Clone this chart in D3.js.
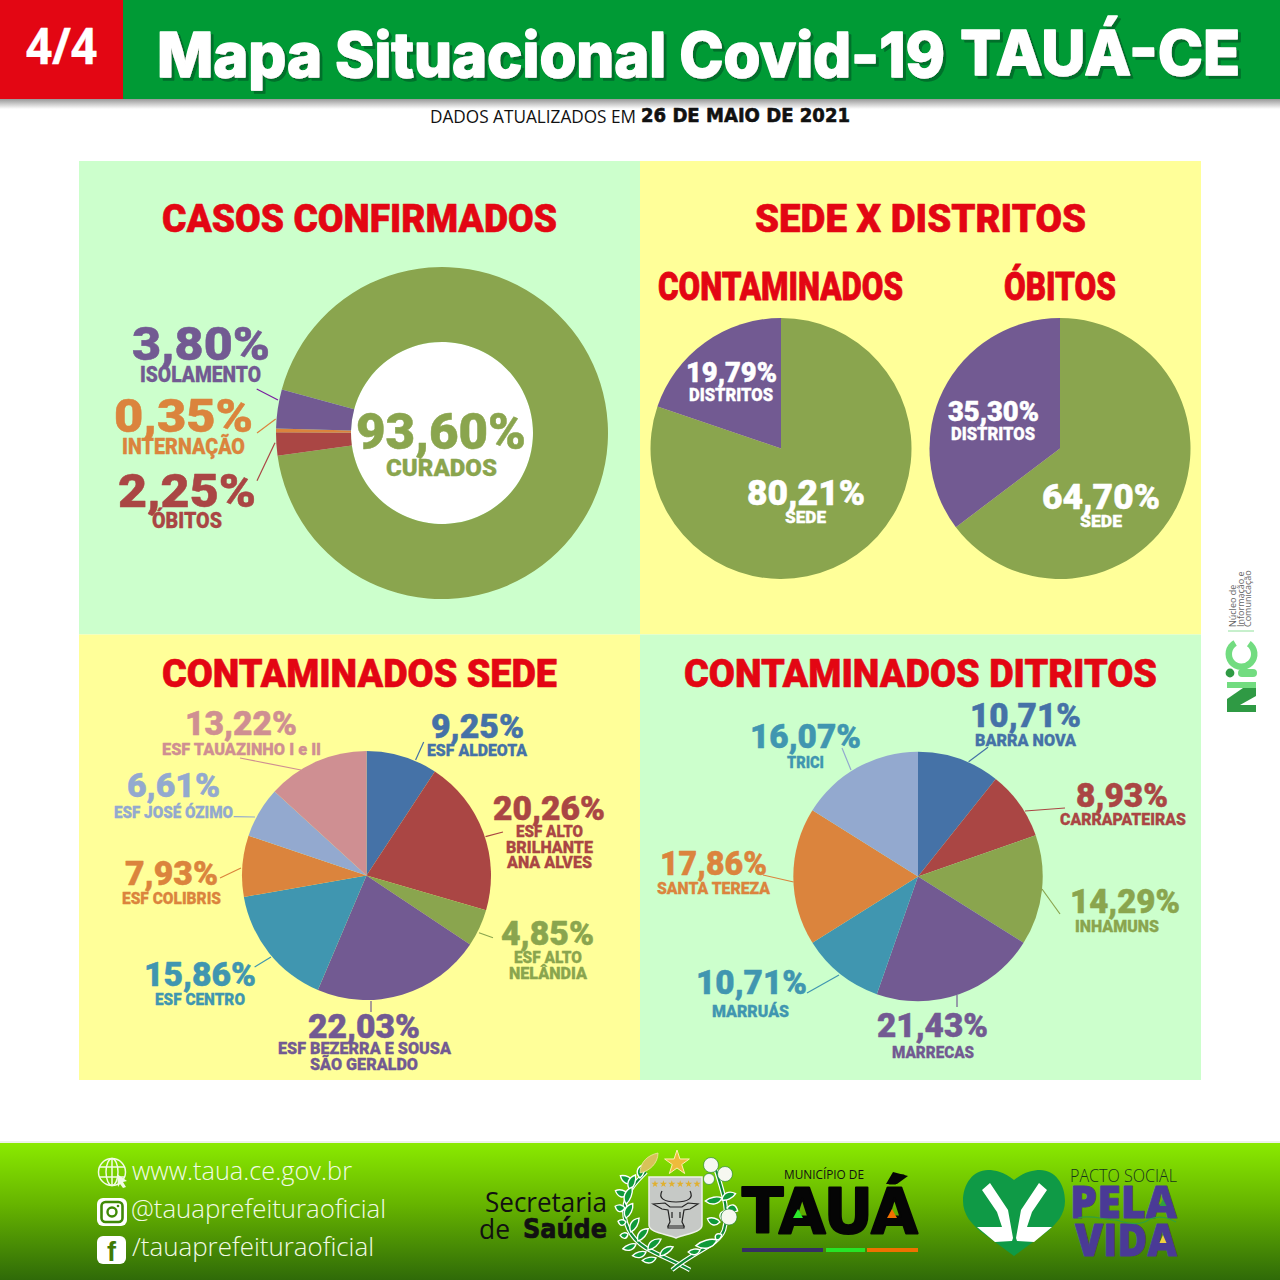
<!DOCTYPE html>
<html lang="pt-BR"><head><meta charset="utf-8">
<style>html,body{margin:0;padding:0;background:#fff}svg{display:block}text{white-space:pre}</style>
<script src="https://cdn.jsdelivr.net/npm/d3@7/dist/d3.min.js"></script></head>
<body><svg id="c" width="1280" height="1280" viewBox="0 0 1280 1280"></svg>
<script>
// ---------- data ----------
const confirmedCategories = ["CURADOS","ÓBITOS","INTERNAÇÃO","ISOLAMENTO"];
const confirmedValues = [93.60,2.25,0.35,3.80];
const seatCategories = ["SEDE","DISTRITOS"];
const seatContaminatedValues = [80.21,19.79];
const seatDeathValues = [64.70,35.30];
const seatUnitCategories = ["ESF ALDEOTA","ESF ALTO|BRILHANTE|ANA ALVES","ESF ALTO|NELÂNDIA","ESF BEZERRA E SOUSA|SÃO GERALDO","ESF CENTRO","ESF COLIBRIS","ESF JOSÉ ÓZIMO","ESF TAUAZINHO I e II"];
const seatUnitValues = [9.25,20.26,4.85,22.03,15.86,7.93,6.61,13.22];
const districtCategories = ["BARRA NOVA","CARRAPATEIRAS","INHAMUNS","MARRECAS","MARRUÁS","SANTA TEREZA","TRICI"];
const districtValues = [10.71,8.93,14.29,21.43,10.71,17.86,16.07];

// ---------- styles ----------
const C={olive:"#8aa54e",purple:"#725a92",red:"#aa4644",orange:"#db843d",blue:"#4572a7",teal:"#4096b0",sky:"#93a9cf",pink:"#cf8f92"};
const confirmedColors=[C.olive,C.red,C.orange,C.purple];
const seatColors=[C.olive,C.purple];
const unitColors=[C.blue,C.red,C.olive,C.purple,C.teal,C.orange,C.sky,C.pink];
const districtColors=[C.blue,C.red,C.olive,C.purple,C.teal,C.orange,C.sky];
const districtLabelColors=[C.blue,C.red,C.olive,C.purple,C.teal,C.orange,C.teal];
const LF='Roboto,"Open Sans",sans-serif';

// ---------- layout: [pct x0,x1,baseline,size], [[name x0,x1,baseline]...], leader [x1,y1,x2,y2] ----------
const confirmedLayout=[
 {p:[356,526,449,50],n:[[386,497,476]],ns:23},
 {p:[118,256,507,47],n:[[152,222,528]],ns:22,l:[275,442.7,257,480.7]},
 {p:[114,253,432,47],n:[[122,245,454]],ns:22,l:[275.7,419,257,433]},
 {p:[132,270,360,47],n:[[140,261,382]],ns:22,l:[278,400,256.7,389],lc:"#7a1fa0"}];
const contLayout=[{p:[747,865,505,35],n:[[785,826,523]],ns:17},{p:[686,777,382,27],n:[[689,773,401]],ns:18}];
const deathLayout=[{p:[1042,1160,509,35],n:[[1080,1122,527]],ns:17},{p:[948,1039,421,27],n:[[951,1035,440]],ns:18}];
const unitLayout=[
 {p:[431,524,738,33],n:[[427,527,756]],ns:17,l:[415.6,760,423.7,742]},
 {p:[493,605,820,33],n:[[516,583,837],[506,593,853],[507,592,868]],ns:17,l:[485.5,836.7,503,832]},
 {p:[501,594,945,33],n:[[514,582,963],[509,587,979]],ns:17,l:[479,932.7,493,937.7]},
 {p:[308,420,1038,33],n:[[278,451,1054],[310,418,1070]],ns:17,l:[371,1001,371,1012]},
 {p:[144,256,986,33],n:[[155,245,1005]],ns:17,l:[271,957,254.6,967]},
 {p:[125,218,885,33],n:[[122,221,904]],ns:17,l:[241,868,220,878]},
 {p:[127,220,797,33],n:[[114,233,818]],ns:17,l:[255,817,233.7,816.7]},
 {p:[185,297,735,33],n:[[162,321,755]],ns:17,l:[301,770,240,758]}];
const districtLayout=[
 {p:[970,1081,727,33],n:[[975,1076,746]],ns:17,l:[968.6,761.7,988,747.3]},
 {p:[1076,1168,807,33],n:[[1060,1186,825]],ns:17,l:[1025,811,1065,808]},
 {p:[1070,1180,913,33],n:[[1075,1159,932]],ns:17,l:[1042,889,1060,914]},
 {p:[877,988,1037,33],n:[[892,974,1058]],ns:17,l:[957,995,957,1007]},
 {p:[696,807,994,33],n:[[712,789,1017]],ns:17,l:[839,975,807,993]},
 {p:[660,767,875,33],n:[[657,770,894]],ns:17,l:[793.6,882,763,875]},
 {p:[750,861,748,33],n:[[787,824,768]],ns:17,l:[851,770,842,748]}];

const svg=d3.select("#c");
const defs=svg.append("defs");
const g1=defs.append("linearGradient").attr("id","foot").attr("x1",0).attr("y1",0).attr("x2",0).attr("y2",1);
g1.append("stop").attr("offset",0).attr("stop-color","#8aea00");
g1.append("stop").attr("offset",.45).attr("stop-color","#66b400");
g1.append("stop").attr("offset",1).attr("stop-color","#2f6a08");
const g2=defs.append("linearGradient").attr("id","sh").attr("x1",0).attr("y1",0).attr("x2",0).attr("y2",1);
g2.append("stop").attr("offset",0).attr("stop-color","#999");
g2.append("stop").attr("offset",1).attr("stop-color","#fff");
const ds=defs.append("filter").attr("id","ts").attr("x","-5%").attr("y","-20%").attr("width","110%").attr("height","140%");
ds.append("feDropShadow").attr("dx",3).attr("dy",3).attr("stdDeviation",0.4).attr("flood-color","#00702a");

function fit(g,t,x0,x1,base,size,fill,o={}){
  const e=g.append("text").attr("x",x0).attr("y",base).attr("textLength",x1-x0).attr("lengthAdjust","spacingAndGlyphs")
   .attr("font-family",o.font||LF).attr("font-weight",o.weight||900).attr("font-size",size).attr("fill",fill).text(t);
  if(o.stroke!==0) e.attr("stroke",fill).attr("stroke-width",o.stroke===undefined?0.6:o.stroke).attr("stroke-linejoin","round");
  return e;
}
const rect=(x,y,w,h,f)=>svg.append("rect").attr("x",x).attr("y",y).attr("width",w).attr("height",h).attr("fill",f);

// ---------- frames ----------
rect(0,99,1280,10,"url(#sh)");
rect(0,0,1280,99,"#009a35");
rect(0,0,123,99,"#e30613");
rect(79,161,561,473.5,"#ccffcc");
rect(640,161,561,473.5,"#ffff99");
rect(79,634.5,561,445.5,"#ffff99");
rect(640,634.5,561,445.5,"#ccffcc");
rect(0,1141,1280,2,"#eef2e8");
rect(0,1143,1280,137,"url(#foot)");

// header
fit(svg,"4/4",26,97,64,50,"#fff",{font:'"Open Sans"',weight:700,stroke:.4});
const TF='Inter,"Open Sans",sans-serif';
const titleG=svg.append("g").attr("filter","url(#ts)");
fit(titleG,"Mapa Situacional Covid-19",157,945,77,62,"#fff",{font:TF,weight:800,stroke:1.4});
fit(titleG,"TAUÁ-CE",960,1240,75,62,"#fff",{font:TF,weight:800,stroke:1.4});
fit(svg,"DADOS ATUALIZADOS EM",430,636,123,19,"#111",{font:'"Open Sans"',weight:400,stroke:0});
fit(svg,"26 DE MAIO DE 2021",641,850,122,19,"#111",{font:'"DejaVu Sans"',weight:700,stroke:.6});

// panel titles
const HF='Roboto,sans-serif', RED="#e30613";
[["CASOS CONFIRMADOS",162,557,232],["SEDE X DISTRITOS",755,1086,232],["CONTAMINADOS SEDE",162,557,687],["CONTAMINADOS DITRITOS",684,1157,687]]
 .forEach(([t,a,b,y])=>fit(svg,t,a,b,y,38,RED,{font:HF,weight:900,stroke:.6}));
fit(svg,"CONTAMINADOS",658,903,300,38,RED,{font:HF,weight:900,stroke:.8});
fit(svg,"ÓBITOS",1004,1116,300,38,RED,{font:HF,weight:900,stroke:.8});

// ---------- pies ----------
function drawPie(cfg){
  const {cx,cy,r,ir=0,start=0,values,colors,cats,layout,labelColors}=cfg;
  const pie=d3.pie().sort(null).startAngle(start).endAngle(start+2*Math.PI);
  const arc=d3.arc().innerRadius(ir).outerRadius(r);
  const g=svg.append("g");
  if(ir) g.append("circle").attr("cx",cx).attr("cy",cy).attr("r",ir).attr("fill","#fff");
  g.append("g").attr("transform",`translate(${cx},${cy})`).selectAll("path").data(pie(values)).join("path")
    .attr("d",arc).attr("fill",(d,i)=>colors[i]);
  const fmt=v=>v.toFixed(2).replace(".",",")+"%";
  layout.forEach((L,i)=>{
    const col=cfg.white?"#fff":(labelColors||colors)[i];
    if(L.l) g.append("line").attr("x1",L.l[0]).attr("y1",L.l[1]).attr("x2",L.l[2]).attr("y2",L.l[3])
       .attr("stroke",L.lc||colors[i]).attr("stroke-width",1.2);
    fit(g,fmt(values[i]),L.p[0],L.p[1],L.p[2],L.p[3],col,{stroke:.5});
    cats[i].split("|").forEach((s,k)=>{const n=L.n[k];fit(g,s,n[0],n[1],n[2],L.ns,col,{stroke:.3});});
  });
}
drawPie({cx:442,cy:433,r:166,ir:91,start:-74.8*Math.PI/180,values:confirmedValues,colors:confirmedColors,cats:confirmedCategories,layout:confirmedLayout});
drawPie({cx:781,cy:448.5,r:130.5,values:seatContaminatedValues,colors:seatColors,cats:seatCategories,layout:contLayout,white:true});
drawPie({cx:1060,cy:448.5,r:130.5,values:seatDeathValues,colors:seatColors,cats:seatCategories,layout:deathLayout,white:true});
drawPie({cx:366.5,cy:875.5,r:124.5,values:seatUnitValues,colors:unitColors,cats:seatUnitCategories,layout:unitLayout});
drawPie({cx:918,cy:876.5,r:124.7,values:districtValues,colors:districtColors,cats:districtCategories,layout:districtLayout,labelColors:districtLabelColors});

// ---------- footer: contacts ----------
const f=svg.append("g");
const FF='"Open Sans",sans-serif';
fit(f,"www.taua.ce.gov.br",132,352,1180,25,"#f2fbe6",{font:FF,weight:300,stroke:0});
fit(f,"@tauaprefeituraoficial",131,386,1218,26,"#f2fbe6",{font:FF,weight:300,stroke:0});
fit(f,"/tauaprefeituraoficial",132,374,1256,26,"#f2fbe6",{font:FF,weight:300,stroke:0});
const gl=f.append("g").attr("fill","none").attr("stroke","#f2fbe6").attr("stroke-width",1.5);
gl.append("circle").attr("cx",112).attr("cy",1172).attr("r",13.5);
gl.append("ellipse").attr("cx",112).attr("cy",1172).attr("rx",6).attr("ry",13.5);
gl.append("path").attr("d","M99,1167H125M99,1177H125M112,1158V1186");
f.append("path").attr("d","M117,1174L127,1181L123,1182L126,1187L123,1188L120,1184L118,1187Z").attr("fill","#f2fbe6");
f.append("rect").attr("x",97).attr("y",1198).attr("width",30).attr("height",28).attr("rx",6).attr("fill","#fff");
f.append("rect").attr("x",101.5).attr("y",1202).attr("width",21).attr("height",20).attr("rx",4).attr("fill","none").attr("stroke","#3f8a06").attr("stroke-width",2.6);
f.append("circle").attr("cx",112).attr("cy",1212).attr("r",4.5).attr("fill","none").attr("stroke","#3f8a06").attr("stroke-width",2.4);
f.append("circle").attr("cx",118).attr("cy",1206).attr("r",1.3).attr("fill","#3f8a06");
f.append("rect").attr("x",97).attr("y",1236).attr("width",29).attr("height",28).attr("rx",6).attr("fill","#fff");
f.append("text").attr("x",107).attr("y",1261).attr("font-family",'"Liberation Sans"').attr("font-weight",700).attr("font-size",27).attr("fill","#3f7a06").text("f");

// secretaria
fit(f,"Secretaria",485,607,1212,27,"#111",{font:'"Open Sans"',weight:400,stroke:0});
fit(f,"de",479,510,1239,27,"#111",{font:'"Open Sans"',weight:400,stroke:0});
fit(f,"Saúde",523,607,1238,26,"#111",{font:'"DejaVu Sans"',weight:700,stroke:.7});

// coat of arms
const coat=f.append("g");
const stemL="M646,1172C636,1182 628,1190 625,1204C622,1222 630,1238 646,1248C660,1256 676,1262 690,1270";
const stemR="M716,1170C722,1190 730,1210 724,1230C718,1246 696,1250 672,1270";
[stemL,stemR].forEach(d=>{
  coat.append("path").attr("d",d).attr("fill","none").attr("stroke","#fff").attr("stroke-width",4.5);
  coat.append("path").attr("d",d).attr("fill","none").attr("stroke","#0f8a35").attr("stroke-width",2.2);
});
const leaf=(x,y,rot,l,w)=>coat.append("path")
  .attr("d",`M0,0C${l*.25},${-w} ${l*.7},${-w} ${l},0C${l*.7},${w*.5} ${l*.25},${w*.5} 0,0Z`)
  .attr("transform",`translate(${x},${y}) rotate(${rot})`).attr("fill","#0f9a3a").attr("stroke","#fff").attr("stroke-width",1.4);
[[640,1178,-75,14,6],[634,1182,-155,15,6],[630,1190,-70,16,6],[628,1194,-165,13,6],[626,1204,-70,18,6],[625,1208,-170,10,6],
 [626,1218,-65,16,6],[626,1222,-175,8,5],[631,1232,-60,16,6],[628,1234,170,8,5],[638,1241,-50,16,6],[636,1244,160,14,5],
 [648,1250,-40,17,6],[646,1252,165,14,5],[660,1256,-35,16,5],[656,1258,170,14,5]].forEach(a=>leaf(...a));
[[722,1200,-25,15,6],[722,1198,170,17,6],[727,1208,15,11,6],[720,1222,195,13,6],[722,1220,-70,10,5],[716,1240,-45,8,5],[717,1240,165,22,7],[700,1250,170,12,5]]
 .forEach(a=>leaf(...a));
[[711,1165,7.5],[725,1174,7.5],[709,1179,5.5],[729,1217,8]].forEach(([x,y,r])=>coat.append("circle").attr("cx",x).attr("cy",y).attr("r",r).attr("fill","#f6f8f0").attr("stroke","#1a7a30").attr("stroke-width",.6));
coat.append("path").attr("d","M640,1173C640,1162 648,1155 658,1153C658,1163 650,1171 640,1173Z").attr("fill","#d8c25a").attr("stroke","#f0e8a0").attr("stroke-width",.8);
const star=d3.symbol().type(d3.symbolStar).size(190);
coat.append("path").attr("d",star()).attr("transform","translate(677,1163)").attr("fill","#eebb3c").attr("stroke","#fff2b0").attr("stroke-width",1);
coat.append("path").attr("d","M649,1177H702V1225C702,1233 684,1234 676,1238C668,1234 649,1233 649,1225Z").attr("fill","#c6c9c6").attr("stroke","#eef0ea").attr("stroke-width",1.5);
for(let i=0;i<6;i++) coat.append("path").attr("d",d3.symbol().type(d3.symbolStar).size(16)()).attr("transform",`translate(${655+i*8.4},1184)`).attr("fill","#e0b030");
const bull=coat.append("g").attr("fill","none").attr("stroke","#222").attr("stroke-width",1.2);
bull.append("path").attr("d","M662,1191C658,1198 664,1202 676,1202C688,1202 694,1198 690,1191");
bull.append("path").attr("d","M653,1204L665,1203L670,1207L682,1207L688,1203L698,1204L690,1209L684,1210L682,1222L684,1226H668L670,1222L668,1210L662,1209Z");
bull.append("path").attr("d","M668,1226V1228H684V1226M672,1212V1218M680,1212V1218");

// TAUÁ
fit(f,"MUNICÍPIO DE",784,864,1179,13.5,"#111",{font:'"Open Sans"',weight:400,stroke:0});
fit(f,"TAUÁ",742,918,1233,63,"#050505",{font:'"DejaVu Sans"',weight:700,stroke:2.2});
f.append("path").attr("d","M893,1172L908,1176L897,1184L886,1184Z").attr("fill","#050505");
f.append("path").attr("d","M798,1209L803,1218H793Z").attr("fill","#2bea2b");
f.append("path").attr("d","M892,1209L897,1218H887Z").attr("fill","#f07000");
rect(742,1248,81,4,"#352f63");rect(826,1248,39,4,"#27e427");rect(867,1248,51,4,"#ee7100");

// heart logo
f.append("path").attr("d","M1014,1180C1004,1172 995,1170 988,1170C973,1170 963,1184 963,1201C963,1215 972,1224 980,1231L1014,1256L1048,1231C1056,1224 1065,1215 1065,1201C1065,1184 1055,1170 1040,1170C1033,1170 1024,1172 1014,1180Z").attr("fill","#0f9a46");
f.append("path").attr("d","M982,1190L990,1183L1008,1210L1013,1238L1012,1241L995,1242L977,1227L1002,1227L997,1212Z").attr("fill","#fff");
f.append("path").attr("d","M1047,1190L1039,1183L1021,1210L1016,1238L1017,1241L1034,1242L1052,1227L1027,1227L1032,1212Z").attr("fill","#fff");
fit(f,"PACTO SOCIAL",1070,1177,1182,18,"#17351c",{font:'"Open Sans"',weight:300,stroke:0});
fit(f,"PELA",1070,1177,1218,44,"#4a3a96",{font:'"Open Sans"',weight:800,stroke:.8});
fit(f,"VIDA",1075,1177,1256,44,"#4a3a96",{font:'"Open Sans"',weight:800,stroke:.8});
f.append("path").attr("d","M1163,1199L1166.5,1206H1159.5Z").attr("fill","#2fa040");
f.append("path").attr("d","M1163,1235L1166.5,1243H1159.5Z").attr("fill","#f0d040");
f.append("path").attr("d","M1078,1218C1092,1214 1102,1220 1116,1220C1130,1224 1140,1226 1150,1219C1160,1215 1168,1218 1176,1222").attr("fill","none").attr("stroke","#2fa040").attr("stroke-width",1.2);

// NIC mark
const n=f.append("g");
[["Núcleo de",1236],["Informação e",1243.5],["Comunicação",1251]].forEach(([t,x])=>{
 n.append("text").attr("transform",`translate(${x},627) rotate(-90)`).attr("font-family",'"Open Sans"').attr("font-size",9).attr("fill","#666").text(t);
});
n.append("line").attr("x1",1228).attr("x2",1254).attr("y1",631).attr("y2",631).attr("stroke","#8fe09a").attr("stroke-width",1);
n.append("path").attr("transform","translate(1241.5,654)")
 .attr("d",d3.arc().innerRadius(9.5).outerRadius(16).startAngle(35*Math.PI/180).endAngle(330*Math.PI/180)()).attr("fill","#72dc80");
n.append("circle").attr("cx",1230).attr("cy",673).attr("r",4.4).attr("fill","#2f9a44");
n.append("rect").attr("x",1238).attr("y",669).attr("width",19).attr("height",8).attr("rx",4).attr("fill","#72dc80");
n.append("rect").attr("x",1227).attr("y",682).attr("width",29).attr("height",6).attr("fill","#72dc80");
n.append("path").attr("d","M1256,688V696L1240,705H1227V699L1243,688Z").attr("fill","#2f9a44");
n.append("rect").attr("x",1227).attr("y",705).attr("width",29).attr("height",7).attr("fill","#2f9a44");
</script></body></html>
